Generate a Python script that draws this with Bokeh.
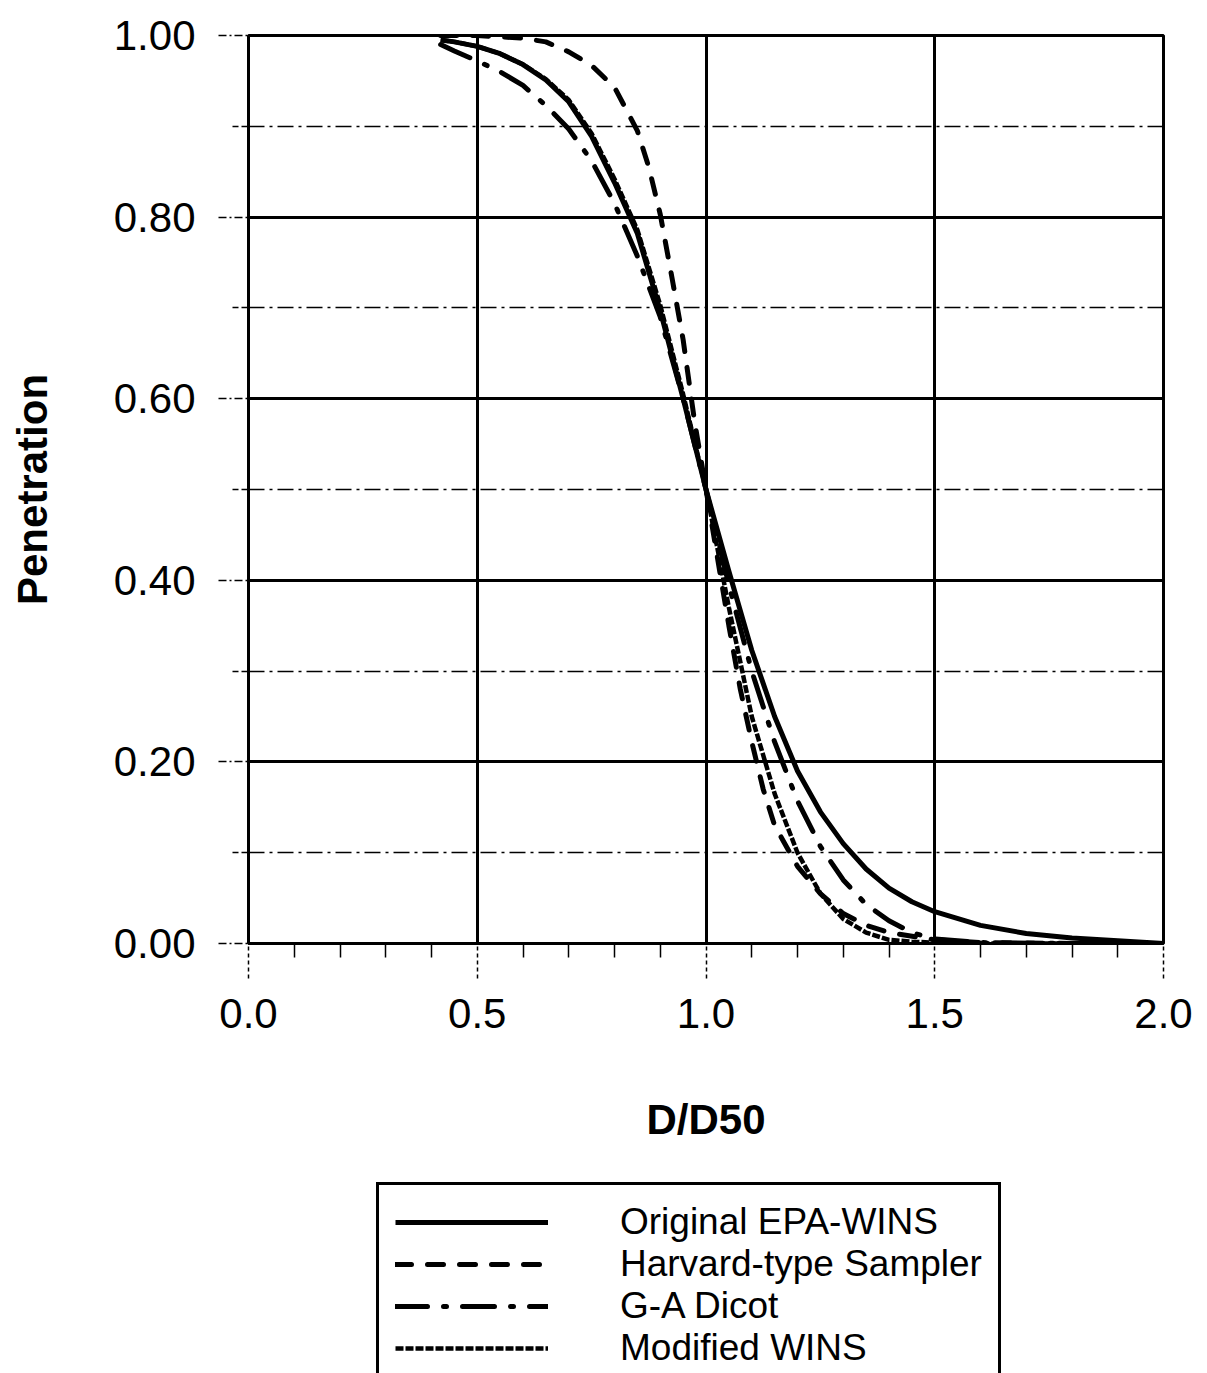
from bokeh.plotting import figure
from bokeh.layouts import column
from bokeh.models import Range1d, FixedTicker, NumeralTickFormatter, Legend, LegendItem
from bokeh.embed import file_html
from bokeh.resources import INLINE

# ---- data ----
x_ticks = [0.0, 0.5, 1.0, 1.5, 2.0]
x_minor = [0.1, 0.2, 0.3, 0.4, 0.6, 0.7, 0.8, 0.9, 1.1, 1.2, 1.3, 1.4, 1.6, 1.7, 1.8, 1.9]
y_ticks = [0.0, 0.2, 0.4, 0.6, 0.8, 1.0]
y_minor = [0.1, 0.3, 0.5, 0.7, 0.9]

x_orig = [0.42, 0.45, 0.5, 0.55, 0.6, 0.65, 0.7, 0.75, 0.8, 0.85, 0.9, 0.95, 1.0, 1.05, 1.1, 1.15,
          1.2, 1.25, 1.3, 1.35, 1.4, 1.45, 1.5, 1.6, 1.7, 1.8, 1.9, 2.0]
y_orig = [0.995, 0.993, 0.988, 0.98, 0.968, 0.951, 0.927, 0.889, 0.838, 0.782, 0.697, 0.60, 0.50, 0.41,
          0.323, 0.25, 0.19, 0.145, 0.11, 0.082, 0.061, 0.046, 0.035, 0.02, 0.011, 0.006, 0.003, 0.0]

x_harv = [0.42, 0.5, 0.6, 0.65, 0.7, 0.75, 0.8, 0.85, 0.875, 0.9, 0.925, 0.95, 0.975, 1.0, 1.025,
          1.05, 1.075, 1.1, 1.125, 1.15, 1.2, 1.25, 1.3, 1.35, 1.4, 1.5, 1.6, 1.8, 2.0]
y_harv = [1.0, 1.0, 0.997, 0.993, 0.982, 0.967, 0.943, 0.895, 0.855, 0.803, 0.735, 0.665, 0.575, 0.50,
          0.425, 0.35, 0.28, 0.222, 0.17, 0.13, 0.085, 0.055, 0.033, 0.02, 0.012, 0.004, 0.001, 0.0, 0.0]

x_dicot = [0.42, 0.45, 0.5, 0.55, 0.6, 0.65, 0.7, 0.75, 0.8, 0.85, 0.9, 0.95, 1.0, 1.05, 1.1, 1.15,
           1.2, 1.25, 1.3, 1.35, 1.4, 1.45, 1.5, 1.6, 1.8, 2.0]
y_dicot = [0.99, 0.983, 0.972, 0.96, 0.945, 0.923, 0.897, 0.862, 0.815, 0.757, 0.69, 0.60, 0.50, 0.395,
           0.30, 0.222, 0.157, 0.107, 0.07, 0.043, 0.025, 0.012, 0.005, 0.001, 0.0, 0.0]

x_mod = [0.42, 0.45, 0.5, 0.55, 0.6, 0.65, 0.7, 0.75, 0.8, 0.85, 0.9, 0.95, 1.0, 1.05, 1.1, 1.15,
         1.2, 1.25, 1.3, 1.35, 1.4, 1.45, 1.5, 1.6, 2.0]
y_mod = [0.995, 0.993, 0.988, 0.98, 0.968, 0.952, 0.929, 0.892, 0.842, 0.786, 0.703, 0.605, 0.50, 0.37,
         0.25, 0.165, 0.10, 0.055, 0.027, 0.012, 0.004, 0.002, 0.001, 0.0, 0.0]

series_names = ["Original EPA-WINS", "Harvard-type Sampler", "G-A Dicot", "Modified WINS"]

FONT = "Liberation Sans"

# ---------------- main chart ----------------
p = figure(width=1207, height=1180, output_backend="svg", toolbar_location=None,
           x_range=Range1d(0, 2), y_range=Range1d(0, 1),
           min_border_left=248, min_border_right=44, min_border_top=35, min_border_bottom=237,
           background_fill_color="white", border_fill_color="white")

p.outline_line_color = "black"
p.outline_line_width = 3

p.xaxis.ticker = FixedTicker(ticks=x_ticks, minor_ticks=x_minor)
p.yaxis.ticker = FixedTicker(ticks=y_ticks, minor_ticks=y_minor)
p.xaxis.formatter = NumeralTickFormatter(format="0.0")
p.yaxis.formatter = NumeralTickFormatter(format="0.00")

for ax in (p.xaxis[0], p.yaxis[0]):
    ax.axis_line_color = "black"
    ax.axis_line_width = 3
    ax.major_label_text_font = FONT
    ax.major_label_text_font_size = "42px"
    ax.major_label_text_color = "black"
    ax.axis_label_text_font = FONT
    ax.axis_label_text_font_size = "42px"
    ax.axis_label_text_font_style = "bold"
    ax.axis_label_text_color = "black"
    ax.major_tick_in = 0
    ax.minor_tick_in = 0
    ax.major_tick_line_color = "black"
    ax.minor_tick_line_color = "black"
    ax.major_tick_line_width = 1.5
    ax.minor_tick_line_width = 1.5

p.xaxis.axis_label = "D/D50"
p.yaxis.axis_label = "Penetration"

p.xaxis.major_tick_out = 35
p.xaxis.major_tick_line_dash = "4 3"
p.xaxis.minor_tick_out = 14
p.xaxis.major_label_standoff = 20
p.xaxis.axis_label_standoff = 65

p.yaxis.major_tick_out = 30
p.yaxis.major_tick_line_dash = "8 3 2 3"
p.yaxis.minor_tick_out = 16
p.yaxis.minor_tick_line_dash = "6 3"
p.yaxis.major_label_standoff = 23
p.yaxis.axis_label_standoff = 55

p.xgrid.grid_line_color = "black"
p.xgrid.grid_line_width = 3
p.xgrid.minor_grid_line_color = None
p.ygrid.grid_line_color = "black"
p.ygrid.grid_line_width = 3
p.ygrid.minor_grid_line_color = "black"
p.ygrid.minor_grid_line_width = 1.5
p.ygrid.minor_grid_line_dash = "16 5 3 5"

STYLES = [
    dict(line_color="black", line_width=5, line_join="round"),
    dict(line_color="black", line_width=5, line_dash="16 16", line_cap="round"),
    dict(line_color="black", line_width=5, line_dash="32 16 3 16", line_cap="round"),
    dict(line_color="black", line_width=4.5, line_dash="8 2"),
]
XS = [x_orig, x_harv, x_dicot, x_mod]
YS = [y_orig, y_harv, y_dicot, y_mod]

for i in (3, 2, 1, 0):
    p.line(XS[i], YS[i], **STYLES[i])

# ---------------- legend panel (frame is aligned with the chart's frame) ----------------
q = figure(width=1207, height=193, output_backend="svg", toolbar_location=None,
           x_range=Range1d(10, 11), y_range=Range1d(10, 11),
           x_axis_location=None, y_axis_location=None,
           min_border_left=248, min_border_right=44, min_border_top=0, min_border_bottom=0,
           background_fill_color="white", border_fill_color="white")
q.outline_line_color = None
q.grid.visible = False

items = []
for i in range(4):
    r = q.line(XS[i], YS[i], **STYLES[i])
    items.append(LegendItem(label=series_names[i], renderers=[r]))

legend = Legend(items=items, location=(128, -15))
legend.label_text_font = FONT
legend.label_text_font_size = "37px"
legend.label_text_color = "black"
legend.label_height = 40
legend.glyph_height = 40
legend.glyph_width = 153
legend.label_standoff = 72
legend.padding = 16
legend.spacing = 0
legend.margin = 0
legend.border_line_color = "black"
legend.border_line_alpha = 1.0
legend.border_line_width = 3
legend.background_fill_color = "white"
legend.background_fill_alpha = 1.0
q.add_layout(legend)

layout = column(p, q, spacing=0)
open("out.html", "w").write(file_html(layout, INLINE))
